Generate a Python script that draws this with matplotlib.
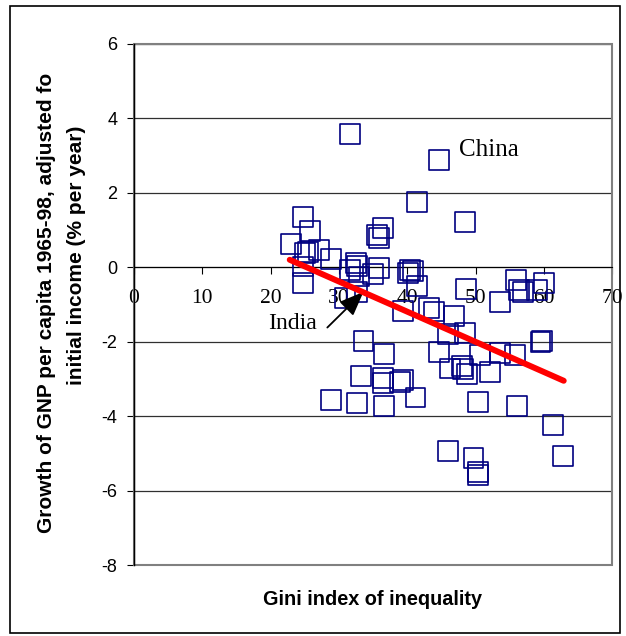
import numpy as np
import matplotlib.pyplot as plt
from matplotlib.patches import Rectangle

plt.rcParams['font.family'] = 'Liberation Sans'
plt.rcParams['axes.unicode_minus'] = False

# 데이터
gini = [31.6, 44.7, 41.4, 24.8, 25.8, 23.0, 36.5, 35.6, 35.8, 25.0,
        25.5, 27.1, 28.9, 24.8, 32.5, 32.7, 31.6, 35.8, 35.0, 33.0,
        40.4, 40.1, 40.9, 24.8, 41.4, 32.6, 30.9, 39.4, 43.2, 43.9,
        46.9, 48.6, 48.5, 55.9, 56.3, 60.0, 59.0, 57.0, 53.6, 46.0,
        48.5, 44.6, 50.7, 53.6, 55.8, 59.5, 59.7, 46.3, 48.0, 48.2,
        48.7, 52.1, 50.4, 56.1, 41.2, 61.3, 45.9, 49.7, 50.4, 50.4,
        62.8, 33.6, 36.6, 33.2, 36.4, 36.5, 38.95, 39.4, 28.9, 32.7,
        36.6]
growth = [3.58, 2.88, 1.76, 1.36, 0.98, 0.62, 1.05, 0.86, 0.78, 0.38,
          0.42, 0.46, 0.21, 0.02, 0.12, 0.03, -0.07, -0.03, -0.17, -0.25,
          -0.07, -0.16, -0.10, -0.43, -0.50, -0.66, -0.83, -1.17, -1.10, -1.19,
          -1.31, -0.59, 1.21, -0.34, -0.61, -0.43, -0.61, -0.66, -0.93, -1.79,
          -1.77, -2.27, -2.36, -2.31, -2.36, -2.02, -1.98, -2.72, -2.65, -2.74,
          -2.88, -2.81, -3.61, -3.72, -3.50, -4.24, -4.93, -5.13, -5.50, -5.58,
          -5.06, -1.97, -2.33, -2.92, -2.98, -3.10, -3.08, -3.03, -3.57, -3.64,
          -3.73]

# 추세선 양 끝
trend_x = [22.8, 62.9]
trend_y = [0.20, -3.05]

xticks = [0, 10, 20, 30, 40, 50, 60, 70]
yticks = [-8, -6, -4, -2, 0, 2, 4, 6]

fig = plt.figure(figsize=(6.26, 6.36), dpi=100)
ax = fig.add_axes([0.214, 0.1116, 0.764, 0.8194])

# 바깥 테두리
fig.patches.append(Rectangle((0.016, 0.005), 0.975, 0.985, transform=fig.transFigure,
                             fill=False, edgecolor='black', linewidth=1.2))

ax.set_xlim(0, 70)
ax.set_ylim(-8, 6)
ax.set_xticks(xticks)
ax.set_yticks(yticks)

for yv in yticks:
    ax.axhline(yv, color='#303030', linewidth=0.9, zorder=1)

ax.scatter(gini, growth, s=205, marker='s', facecolors='none',
           edgecolors='#000080', linewidths=1.2, zorder=3)
ax.plot(trend_x, trend_y, color='#ff0000', linewidth=4.3, solid_capstyle='round', zorder=4)

# 스파인
ax.spines['bottom'].set_position(('data', 0))
ax.spines['bottom'].set_color('black')
ax.spines['left'].set_color('black')
ax.spines['top'].set_visible(False)
ax.spines['right'].set_visible(False)
ax.add_patch(Rectangle((0, 0), 1, 1, transform=ax.transAxes, fill=False,
                       edgecolor='#808080', linewidth=1.5, zorder=2, clip_on=False))
ax.plot([0, 0], [0, 1], transform=ax.transAxes, color='black', linewidth=1.0,
        clip_on=False, zorder=5)

ax.tick_params(axis='x', direction='out', length=5, pad=11, labelsize=15.5)
ax.tick_params(axis='y', direction='out', length=5, pad=7, labelsize=13)
for lbl in ax.get_xticklabels():
    lbl.set_family('Liberation Serif')

# 축 제목
fig.text(0.0735, 0.524, 'Growth of GNP per capita 1965-98, adjusted fo',
         rotation=90, fontsize=15, fontweight='bold', ha='center', va='center')
fig.text(0.122, 0.599, 'initial income (% per year)',
         rotation=90, fontsize=15, fontweight='bold', ha='center', va='center')
fig.text(0.595, 0.057, 'Gini index of inequality', fontsize=14.3, fontweight='bold',
         ha='center', va='center')

ax.text(47.6, 3.15, 'China', family='Liberation Serif', fontsize=18, va='center')
ax.text(19.6, -1.5, 'India', family='Liberation Serif', fontsize=17, va='center')
ax.annotate('', xy=(33.6, -0.66), xytext=(28.3, -1.62),
            arrowprops=dict(arrowstyle='-|>,head_length=1.5,head_width=0.6',
                            color='black', linewidth=1.3, shrinkA=0, shrinkB=0))

plt.savefig('out.png', dpi=100)
